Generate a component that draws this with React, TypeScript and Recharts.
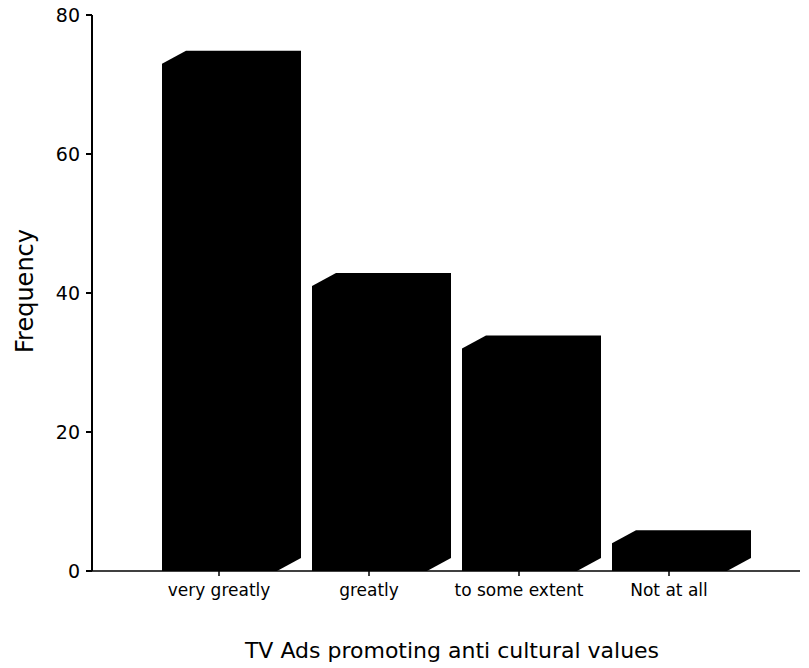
import React from 'react';
import { BarChart, Bar, XAxis, YAxis } from 'recharts';

const categories = ['very greatly', 'greatly', 'to some extent', 'Not at all'];
const frequencies = [73, 41, 32, 4];
const yTicks = [0, 20, 40, 60, 80];

const data = categories.map((name, i) => ({ name, value: frequencies[i] }));

const FONT = '"DejaVu Sans", Arial, sans-serif';

// SPSS-style block: front face + top + right side, all solid black
const Block3D = (props: any) => {
  const { x, y, width, height } = props;
  if (height == null || width == null) return null;
  const dx = 24;
  const dy = 13;
  const d = [
    `M${x},${y + height}`,
    `L${x},${y}`,
    `L${x + dx},${y - dy}`,
    `L${x + width + dx},${y - dy}`,
    `L${x + width + dx},${y + height - dy}`,
    `L${x + width},${y + height}`,
    'Z'
  ].join(' ');
  return <path d={d} fill="#000" stroke="none" />;
};

const xTitle = (props: any) => {
  const vb = props.viewBox;
  return (
    <text
      x={vb.x + vb.width / 2 + 6}
      y={vb.y + 87}
      textAnchor="middle"
      fontSize={22}
      fontFamily={FONT}
      fill="#000"
    >
      TV Ads promoting anti cultural values
    </text>
  );
};

const yTitle = (props: any) => {
  const vb = props.viewBox;
  const cx = vb.x + 21;
  const cy = vb.y + vb.height / 2 - 2;
  return (
    <text
      x={cx}
      y={cy}
      transform={`rotate(-90, ${cx}, ${cy})`}
      textAnchor="middle"
      fontSize={24}
      fontFamily={FONT}
      fill="#000"
    >
      Frequency
    </text>
  );
};

export default function App() {
  return (
    <div style={{ position: 'absolute', left: 0, top: 0, width: 809, height: 668, background: '#fff' }}>
      <BarChart width={809} height={668} data={data} margin={{ top: 15, right: 9, bottom: 0, left: 12 }}>
        <XAxis
          dataKey="name"
          height={97}
          interval={0}
          padding={{ left: 52, right: 56 }}
          axisLine={{ stroke: '#000', strokeWidth: 1.5 }}
          tickLine={{ stroke: '#000', strokeWidth: 1.5 }}
          tickSize={5}
          tickMargin={8}
          tick={{ fill: '#000', fontSize: 17, fontFamily: FONT }}
          label={xTitle}
        />
        <YAxis
          width={80}
          domain={[0, 80]}
          ticks={yTicks}
          interval={0}
          axisLine={{ stroke: '#000', strokeWidth: 2 }}
          tickLine={{ stroke: '#000', strokeWidth: 2 }}
          tickSize={6}
          tickMargin={6}
          tick={{ fill: '#000', fontSize: 19, fontFamily: FONT }}
          label={yTitle}
        />
        <Bar dataKey="value" barSize={115} shape={<Block3D />} isAnimationActive={false} />
      </BarChart>
    </div>
  );
}
